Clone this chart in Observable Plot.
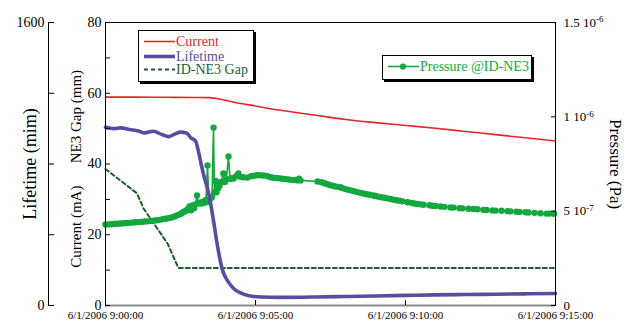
<!DOCTYPE html>
<html><head><meta charset="utf-8">
<script src="https://cdn.jsdelivr.net/npm/d3@7"></script>
<script src="https://cdn.jsdelivr.net/npm/@observablehq/plot@0.6"></script>
<style>
body{margin:0;background:#fff;}
#wrap{position:relative;width:626px;height:323px;font-family:"Liberation Serif","Times New Roman",serif;}
.leg{position:absolute;background:#fff;border:1px solid #000;box-shadow:2px 2px 0 #000;}
.row{position:absolute;left:5px;height:13px;line-height:13px;font-size:14px;white-space:nowrap;display:flex;align-items:center;}
.row svg{margin-right:1px;}
</style></head><body><div id="wrap"></div>
<script>
// ---- data (time in minutes after 6/1/2006 9:00:00) ----
const xTicks = [0, 5, 10, 15];
const xTickLabels = ["6/1/2006 9:00:00", "6/1/2006 9:05:00", "6/1/2006 9:10:00", "6/1/2006 9:15:00"];

const currentT = [0, 1, 2, 3, 3.45, 4, 4.5, 5, 5.5, 6, 7, 8, 9, 10, 11, 12, 13, 14, 15];
const currentV = [58.9, 58.9, 58.85, 58.8, 58.75, 58.0, 57.1, 56.4, 55.6, 55.0, 53.8, 52.6, 51.7, 50.9, 50.1, 49.2, 48.3, 47.4, 46.5]; // mA

const gapT = [0, 1.05, 1.27, 2.07, 2.43, 15];
const gapV = [38.6, 31.7, 27.4, 17.5, 10.6, 10.6]; // mm

const lifeT = [0, 0.3, 0.5, 0.8, 1.1, 1.3, 1.6, 1.9, 2.1, 2.3, 2.5, 2.7, 2.85, 3.0, 3.1, 3.2, 3.3, 3.4, 3.5, 3.6, 3.7, 3.8, 3.9, 4.0, 4.15, 4.3, 4.5, 4.75, 5.2, 5.8, 7, 8, 9, 10, 11, 12, 13, 14, 15];
const lifeV = [1008, 1000, 1004, 995, 987, 976, 985, 965, 955, 968, 980, 975, 948, 930, 870, 790, 720, 660, 580, 480, 370, 275, 200, 160, 120, 92, 72, 57, 48, 46, 48, 51, 54, 57, 60, 62, 64, 66, 68]; // min

const pressureT = [0.0,0.1,0.2,0.3,0.4,0.5,0.6,0.7,0.8,0.9,1.0,1.1,1.2,1.3,1.4,1.5,1.6,1.7,1.8,1.9,2.0,2.1,2.2,2.3,2.4,2.5,2.55,2.6,2.65,2.7,2.75,2.8,2.85,2.9,2.95,3.0,3.05,3.1,3.15,3.2,3.25,3.3,3.35,3.4,3.45,3.5,3.55,3.6,3.63,3.67,3.7,3.75,3.8,3.85,3.93,3.98,4.03,4.1,4.15,4.22,4.27,4.35,4.43,4.5,4.6,4.73,4.85,4.95,5.05,5.15,5.27,5.4,5.5,5.6,5.7,5.8,5.9,6.0,6.1,6.2,6.3,6.4,6.45,6.5,7.07,7.2,7.3,7.4,7.5,7.6,7.7,7.83,7.9,8.0,8.1,8.2,8.3,8.4,8.5,8.6,8.7,8.8,8.93,9.0,9.1,9.2,9.3,9.4,9.5,9.6,9.7,9.8,9.9,10.07,10.2,10.3,10.4,10.5,10.6,10.8,10.9,11.0,11.17,11.3,11.5,11.6,11.8,11.9,12.1,12.27,12.4,12.6,12.7,12.9,13.0,13.2,13.4,13.5,13.7,13.8,14.0,14.1,14.3,14.5,14.7,14.8,14.95];
const pressureV = [4.29,4.30,4.31,4.33,4.33,4.35,4.36,4.37,4.38,4.40,4.41,4.42,4.43,4.45,4.46,4.48,4.50,4.52,4.54,4.57,4.60,4.63,4.67,4.72,4.78,4.85,4.90,4.95,5.00,5.04,5.12,5.25,5.05,5.30,5.15,5.35,5.83,5.40,5.45,5.40,5.50,5.45,5.60,7.42,5.50,5.67,5.75,9.43,6.00,6.60,6.00,6.20,6.35,6.55,7.00,6.55,6.70,7.90,6.70,6.75,6.73,6.85,7.00,6.82,6.80,6.78,6.85,6.88,6.90,6.90,6.89,6.85,6.80,6.77,6.76,6.74,6.72,6.70,6.68,6.66,6.65,6.63,6.72,6.63,6.57,6.53,6.48,6.43,6.38,6.34,6.30,6.27,6.22,6.17,6.13,6.09,6.05,6.01,5.97,5.94,5.90,5.87,5.83,5.80,5.77,5.74,5.71,5.68,5.65,5.61,5.58,5.55,5.52,5.47,5.44,5.41,5.38,5.36,5.34,5.31,5.29,5.27,5.25,5.23,5.20,5.19,5.16,5.15,5.13,5.12,5.10,5.07,5.06,5.04,5.03,5.02,5.00,4.99,4.97,4.96,4.94,4.93,4.91,4.89,4.87,4.87,4.86]; // x 1e-7 Pa

const leftTicks = [0, 20, 40, 60, 80];
const leftMinor = [0, 10, 20, 30, 40, 50, 60, 70, 80];
const lifeTicks = [0, 400, 800, 1200, 1600];
const lifeLabeled = [0, 1600];
const pressureTicks = [0, 5e-7, 1e-6, 1.5e-6];
const pressureTickLabels = ["0", "5 10|-7", "1 10|-6", "1.5 10|-6"];

// ---- colours ----
const RED = "#e6252b", PURPLE = "#5a4d9f", GREEN = "#13a83d", DKGREEN = "#1d5e2c";

// ---- build rows; secondary axes share the 0–80 y scale ----
const LIFE_MAX = 1600, P_MAX = 1.5e-6, Y_MAX = 80;
const toYLife = v => v / LIFE_MAX * Y_MAX;
const toYP = p => p / P_MAX * Y_MAX;
const current = currentT.map((t, i) => ({t, v: currentV[i]}));
const gap = gapT.map((t, i) => ({t, v: gapV[i]}));
const life = lifeT.map((t, i) => ({t, v: toYLife(lifeV[i])}));
const pressure = pressureT.map((t, i) => ({t, v: toYP(pressureV[i] * 1e-7)}));

const serif = '"Liberation Serif","Times New Roman",serif';

const chart = Plot.plot({
  width: 626, height: 323,
  marginLeft: 105, marginRight: 71, marginTop: 22, marginBottom: 18,
  style: {fontFamily: serif, fontSize: "14px", background: "#fff", color: "#000"},
  x: {domain: [0, 15]},
  y: {domain: [0, Y_MAX]},
  marks: [
    Plot.line(gap, {x: "t", y: "v", stroke: DKGREEN, strokeWidth: 2, strokeDasharray: "4,3"}),
    Plot.line(pressure, {x: "t", y: "v", stroke: GREEN, strokeWidth: 1.6}),
    Plot.dot(pressure, {x: "t", y: "v", r: 3.2, fill: GREEN, stroke: "none"}),
    Plot.line(life, {x: "t", y: "v", stroke: PURPLE, strokeWidth: 3.6, curve: "monotone-x"}),
    Plot.line(current, {x: "t", y: "v", stroke: RED, strokeWidth: 1.6, curve: "monotone-x"}),
    Plot.frame({stroke: "#000"}),
    Plot.ruleY([0], {stroke: "#8a8a8a", strokeWidth: 2}),
    // inner left axis (Current / NE3 gap)
    Plot.axisY(leftMinor, {anchor: "left", tickSize: -5, fill: "none", label: null}),
    Plot.axisY(leftTicks, {anchor: "left", tickSize: 0, tickPadding: 4, fontSize: 14, label: null}),
    // outer left axis (Lifetime)
    Plot.ruleX([0], {dx: -57, stroke: "#000"}),
    Plot.axisY(lifeTicks.map(toYLife), {anchor: "left", tickSize: -6, dx: -57, fill: "none", label: null}),
    Plot.axisY(lifeLabeled.map(toYLife), {anchor: "left", tickSize: 0, tickPadding: 4, dx: -57, fontSize: 14, label: null,
      tickFormat: d => String(Math.round(d / Y_MAX * LIFE_MAX))}),
    // right axis (Pressure)
    Plot.axisY(pressureTicks.map(toYP), {anchor: "right", tickSize: -5, fill: "none", label: null}),
    Plot.axisY(pressureTicks.map(toYP), {anchor: "right", tickSize: 0, tickPadding: 8, fontSize: 13, label: null,
      tickFormat: (d, i) => pressureTickLabels[i]}),
    // x axis
    Plot.axisX(xTicks, {anchor: "bottom", tickSize: -5, fill: "none", label: null}),
    Plot.axisX(xTicks, {anchor: "bottom", tickSize: 0, tickPadding: 6, fontSize: 11, label: null,
      tickFormat: (d, i) => xTickLabels[i]}),
    // axis titles
    Plot.text(["Lifetime (mim)"], {frameAnchor: "left", textAnchor: "middle", dx: -75, rotate: -90, fontSize: 18}),
    Plot.text(["NE3 Gap (mm)"], {y: [53.4], frameAnchor: "left", textAnchor: "middle", dx: -29, rotate: -90, fontSize: 15}),
    Plot.text(["Current (mA)"], {y: [22.3], frameAnchor: "left", textAnchor: "middle", dx: -29, rotate: -90, fontSize: 15}),
    Plot.text(["Pressure (Pa)"], {frameAnchor: "right", textAnchor: "middle", dx: 60, rotate: 90, fontSize: 17})
  ]
});

// superscript exponents on pressure tick labels
d3.select(chart).selectAll("text").each(function () {
  const s = this.textContent;
  if (s.includes("|")) {
    const [base, exp] = s.split("|");
    const el = d3.select(this);
    el.text(null);
    el.append("tspan").text(base);
    el.append("tspan").attr("dy", "-0.5em").attr("font-size", "9px").text(exp);
  }
});

const wrap = document.getElementById("wrap");
wrap.appendChild(chart);

// legends
function swatch(kind, color) {
  const dash = kind === "dash" ? ' stroke-dasharray="4,3"' : "";
  const w = kind === "thick" ? 3.6 : (kind === "dash" ? 2 : 1.6);
  const dot = kind === "dot" ? `<circle cx="15" cy="6.5" r="3.1" fill="${color}"/>` : "";
  return `<svg width="31" height="13"><line x1="0" y1="6.5" x2="31" y2="6.5" stroke="${color}" stroke-width="${w}"${dash}/>${dot}</svg>`;
}
const leg1 = document.createElement("div");
leg1.className = "leg";
Object.assign(leg1.style, {left: "138px", top: "30px", width: "114px", height: "50px"});
leg1.innerHTML =
  `<div class="row" style="top:4px;color:${RED}">${swatch("thin", RED)}Current</div>` +
  `<div class="row" style="top:19px;color:${PURPLE}">${swatch("thick", PURPLE)}Lifetime</div>` +
  `<div class="row" style="top:32px;color:${DKGREEN}">${swatch("dash", DKGREEN)}ID-NE3 Gap</div>`;
wrap.appendChild(leg1);

const leg2 = document.createElement("div");
leg2.className = "leg";
Object.assign(leg2.style, {left: "382px", top: "55px", width: "148px", height: "23px"});
leg2.innerHTML = `<div class="row" style="top:4px;color:${GREEN}">${swatch("dot", GREEN)}Pressure @ID-NE3</div>`;
wrap.appendChild(leg2);
</script></body></html>
